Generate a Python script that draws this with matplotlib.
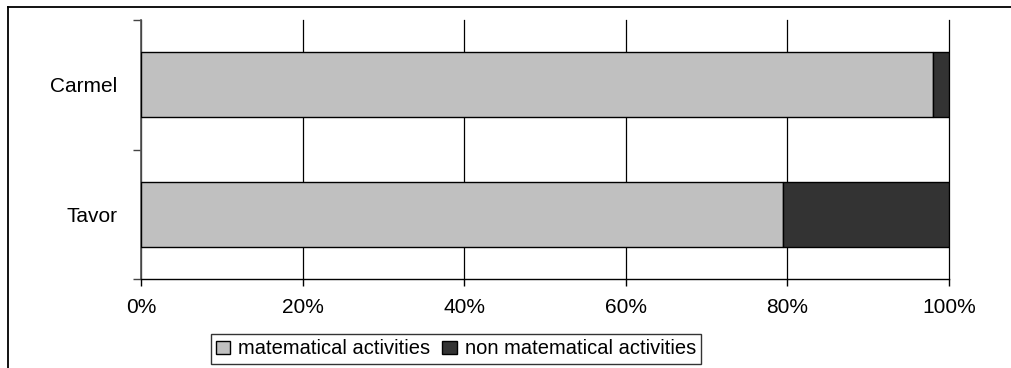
"""
Share of lesson time: matematical vs non matematical activities (Carmel, Tavor)
"""
import matplotlib.pyplot as plt
from matplotlib.lines import Line2D
from matplotlib.patches import Patch
from matplotlib.ticker import FixedLocator, PercentFormatter

plt.rcParams['font.family'] = ['Liberation Sans', 'DejaVu Sans']

# Data
schools = ['Tavor', 'Carmel']
math_share = [79.5, 98.0]
non_math_share = [20.5, 2.0]
series_labels = ['matematical activities', 'non matematical activities']

COLOR_MATH = '#C0C0C0'
COLOR_NON_MATH = '#333333'

fig = plt.figure(figsize=(10.11, 3.68), dpi=100, facecolor='white')
ax = fig.add_axes([141 / 1011, 1 - 279 / 368, 808 / 1011, 259 / 368])

ypos = list(range(len(schools)))
ax.barh(ypos, math_share, height=0.5, color=COLOR_MATH,
        edgecolor='black', linewidth=1, zorder=3)
ax.barh(ypos, non_math_share, left=math_share, height=0.5,
        color=COLOR_NON_MATH, edgecolor='black', linewidth=1, zorder=3)

ax.set_xlim(0, 100)
ax.set_ylim(-0.5, len(schools) - 0.5)

# x axis
ax.set_xticks(range(0, 101, 20))
ax.xaxis.set_major_formatter(PercentFormatter(decimals=0))
ax.tick_params(axis='x', direction='out', length=5, width=1, pad=9,
               labelsize=15, color='black')
ax.grid(axis='x', color='black', linewidth=0.9, zorder=0)
for gl in ax.get_xgridlines():
    gl.set_clip_on(False)

# y axis: labels at the bars, tick marks between categories
ax.set_yticks(ypos)
ax.set_yticklabels(schools)
ax.tick_params(axis='y', which='major', length=0, pad=17, labelsize=15)
ax.yaxis.set_minor_locator(FixedLocator([-0.5, 0.5, 1.5]))
ax.tick_params(axis='y', which='minor', direction='out', length=6,
               width=1, color='#444444')

for side in ['top', 'right']:
    ax.spines[side].set_visible(False)
ax.spines['left'].set_color('#555555')
ax.spines['bottom'].set_color('black')
ax.spines['left'].set_linewidth(1.2)
ax.spines['bottom'].set_linewidth(1)

# Outer chart frame (left and top edges)
x0, y0 = 7.5 / 1011, 1 - 7 / 368
fig.add_artist(Line2D([x0, x0], [0, y0], transform=fig.transFigure,
                      color='black', linewidth=1.3))
fig.add_artist(Line2D([x0, 1], [y0, y0], transform=fig.transFigure,
                      color='black', linewidth=1.3))

# Legend
handles = [Patch(facecolor=COLOR_MATH, edgecolor='black', linewidth=1),
           Patch(facecolor=COLOR_NON_MATH, edgecolor='black', linewidth=1)]
leg = fig.legend(handles, series_labels, loc='center',
                 bbox_to_anchor=(456 / 1011, 1 - 349 / 368), ncol=2,
                 fontsize=14.5, frameon=True, fancybox=False,
                 handlelength=0.7, handleheight=0.6, handletextpad=0.4,
                 columnspacing=0.6, borderpad=0.25, borderaxespad=0)
leg.get_frame().set_edgecolor('black')
leg.get_frame().set_linewidth(1)

fig.savefig('out.png', dpi=100, facecolor='white')
